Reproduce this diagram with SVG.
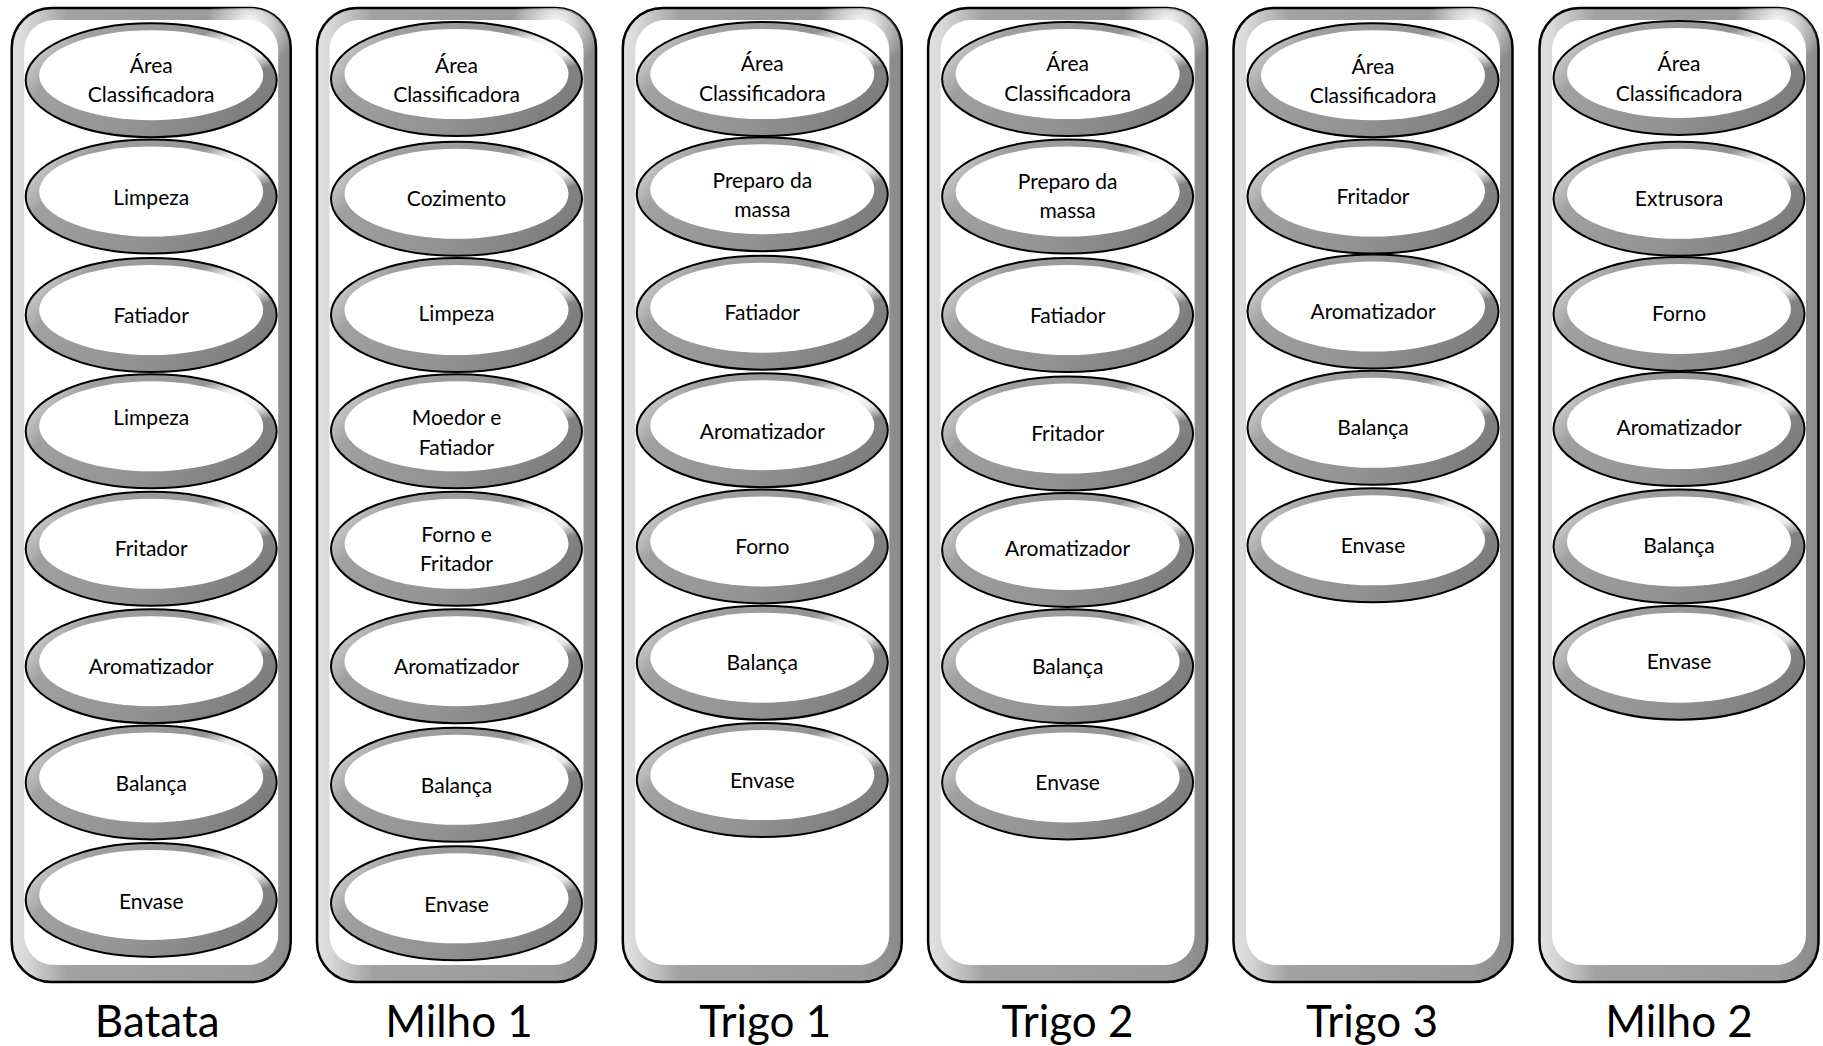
<svg xmlns="http://www.w3.org/2000/svg" width="1823" height="1046" viewBox="0 0 1823 1046">
<style>
.frame{fill:url(#frameBand);stroke:#000;stroke-width:2.5}
.framehl{fill:url(#frameHl);stroke:none}
.frameIn{fill:#fff;stroke:none}
.band{fill:url(#ellBand);stroke:none}
.bandhl{fill:url(#ellHl);stroke:none}
.inner{fill:#fff;stroke:none}
.edge{fill:none;stroke:#000;stroke-width:2}
.t{font-family:Lato,"Open Sans","Liberation Sans",sans-serif;font-size:21px;fill:#000;text-anchor:middle}
.lbl{font-family:Lato,"Open Sans","Liberation Sans",sans-serif;font-size:44px;fill:#000;text-anchor:middle}
</style>
<defs>
<linearGradient id="frameBand" gradientUnits="userSpaceOnUse" x1="-139.5" y1="0" x2="139.5" y2="0">
<stop offset="0" stop-color="#e2e2e2"/>
<stop offset="0.05" stop-color="#d8d8d8"/>
<stop offset="0.2" stop-color="#a2a2a2"/>
<stop offset="0.85" stop-color="#9a9a9a"/>
<stop offset="1" stop-color="#8a8a8a"/>
</linearGradient>
<radialGradient id="frameHl" gradientUnits="userSpaceOnUse" cx="100" cy="25" r="45">
<stop offset="0" stop-color="#fff" stop-opacity="1"/>
<stop offset="1" stop-color="#fff" stop-opacity="0"/>
</radialGradient>
<linearGradient id="ellBand" x1="0" y1="0.3" x2="1" y2="0.7">
<stop offset="0" stop-color="#d0d0d0"/>
<stop offset="0.15" stop-color="#a0a0a0"/>
<stop offset="0.6" stop-color="#929292"/>
<stop offset="1" stop-color="#7a7a7a"/>
</linearGradient>
<radialGradient id="ellHl" cx="0.86" cy="0.22" r="0.2">
<stop offset="0" stop-color="#fff" stop-opacity="1"/>
<stop offset="0.5" stop-color="#fff" stop-opacity="0.8"/>
<stop offset="1" stop-color="#fff" stop-opacity="0"/>
</radialGradient>
<g id="ell">
<ellipse class="band" cx="0" cy="0" rx="125.5" ry="57"/>
<ellipse class="bandhl" cx="0" cy="0" rx="125.5" ry="57"/>
<ellipse class="inner" cx="0" cy="-5" rx="112" ry="45"/>
<ellipse class="edge" cx="0" cy="0" rx="125.5" ry="57"/>
</g>
<g id="frm">
<rect class="frame" x="-139.5" y="8" width="279" height="974" rx="40"/>
<rect class="framehl" x="-139.5" y="8" width="279" height="974" rx="40"/>
<rect class="frameIn" x="-127" y="20" width="254" height="945" rx="30"/>
</g>
</defs>
<g id="connectors"/>

<g id="col-batata" transform="translate(151.2,0)">
<use href="#frm"/>
<g id="batata-1"><use href="#ell" y="80.2"/><text class="t" x="0" y="72.6">Área</text><text class="t" x="0" y="101.7">Classificadora</text></g>
<g id="batata-2"><use href="#ell" y="196.5"/><text class="t" x="0" y="205">Limpeza</text></g>
<g id="batata-3"><use href="#ell" y="315"/><text class="t" x="0" y="322.6">Fatiador</text></g>
<g id="batata-4"><use href="#ell" y="431.3"/><text class="t" x="0" y="425">Limpeza</text></g>
<g id="batata-5"><use href="#ell" y="548.8"/><text class="t" x="0" y="556.3">Fritador</text></g>
<g id="batata-6"><use href="#ell" y="666.2"/><text class="t" x="0" y="673.7">Aromatizador</text></g>
<g id="batata-7"><use href="#ell" y="782.4"/><text class="t" x="0" y="791">Balança</text></g>
<g id="batata-8"><use href="#ell" y="899.9"/><text class="t" x="0" y="908.5">Envase</text></g>
<text class="lbl" x="6" y="1037">Batata</text>
</g>

<g id="col-milho1" transform="translate(456.5,0)">
<use href="#frm"/>
<g id="milho1-1"><use href="#ell" y="79"/><text class="t" x="0" y="72.6">Área</text><text class="t" x="0" y="101.7">Classificadora</text></g>
<g id="milho1-2"><use href="#ell" y="198.8"/><text class="t" x="0" y="206.3">Cozimento</text></g>
<g id="milho1-3"><use href="#ell" y="315"/><text class="t" x="0" y="321.4">Limpeza</text></g>
<g id="milho1-4"><use href="#ell" y="431.3"/><text class="t" x="0" y="425">Moedor e</text><text class="t" x="0" y="455.1">Fatiador</text></g>
<g id="milho1-5"><use href="#ell" y="548.8"/><text class="t" x="0" y="542.3">Forno e</text><text class="t" x="0" y="571.4">Fritador</text></g>
<g id="milho1-6"><use href="#ell" y="666.2"/><text class="t" x="0" y="673.7">Aromatizador</text></g>
<g id="milho1-7"><use href="#ell" y="784.8"/><text class="t" x="0" y="793.4">Balança</text></g>
<g id="milho1-8"><use href="#ell" y="903.3"/><text class="t" x="0" y="912">Envase</text></g>
<text class="lbl" x="2.5" y="1037">Milho 1</text>
</g>

<g id="col-trigo1" transform="translate(762.3,0)">
<use href="#frm"/>
<g id="trigo1-1"><use href="#ell" y="79"/><text class="t" x="0" y="71.4">Área</text><text class="t" x="0" y="100.5">Classificadora</text></g>
<g id="trigo1-2"><use href="#ell" y="194.2"/><text class="t" x="0" y="187.7">Preparo da</text><text class="t" x="0" y="216.8">massa</text></g>
<g id="trigo1-3"><use href="#ell" y="312.7"/><text class="t" x="0" y="320.2">Fatiador</text></g>
<g id="trigo1-4"><use href="#ell" y="430.2"/><text class="t" x="0" y="438.8">Aromatizador</text></g>
<g id="trigo1-5"><use href="#ell" y="546.4"/><text class="t" x="0" y="553.9">Forno</text></g>
<g id="trigo1-6"><use href="#ell" y="662.7"/><text class="t" x="0" y="670.2">Balança</text></g>
<g id="trigo1-7"><use href="#ell" y="780.1"/><text class="t" x="0" y="787.6">Envase</text></g>
<text class="lbl" x="3" y="1037">Trigo 1</text>
</g>

<g id="col-trigo2" transform="translate(1067.6,0)">
<use href="#frm"/>
<g id="trigo2-1"><use href="#ell" y="79"/><text class="t" x="0" y="71.4">Área</text><text class="t" x="0" y="100.5">Classificadora</text></g>
<g id="trigo2-2"><use href="#ell" y="196.5"/><text class="t" x="0" y="188.9">Preparo da</text><text class="t" x="0" y="217.9">massa</text></g>
<g id="trigo2-3"><use href="#ell" y="315"/><text class="t" x="0" y="322.6">Fatiador</text></g>
<g id="trigo2-4"><use href="#ell" y="433.6"/><text class="t" x="0" y="441.1">Fritador</text></g>
<g id="trigo2-5"><use href="#ell" y="549.9"/><text class="t" x="0" y="556.3">Aromatizador</text></g>
<g id="trigo2-6"><use href="#ell" y="666.2"/><text class="t" x="0" y="673.7">Balança</text></g>
<g id="trigo2-7"><use href="#ell" y="782.4"/><text class="t" x="0" y="789.9">Envase</text></g>
<text class="lbl" x="0" y="1037">Trigo 2</text>
</g>

<g id="col-trigo3" transform="translate(1373,0)">
<use href="#frm"/>
<g id="trigo3-1"><use href="#ell" y="80.2"/><text class="t" x="0" y="73.8">Área</text><text class="t" x="0" y="102.8">Classificadora</text></g>
<g id="trigo3-2"><use href="#ell" y="196.5"/><text class="t" x="0" y="204">Fritador</text></g>
<g id="trigo3-3"><use href="#ell" y="311.6"/><text class="t" x="0" y="319.1">Aromatizador</text></g>
<g id="trigo3-4"><use href="#ell" y="427.8"/><text class="t" x="0" y="435.3">Balança</text></g>
<g id="trigo3-5"><use href="#ell" y="545.3"/><text class="t" x="0" y="552.8">Envase</text></g>
<text class="lbl" x="-1" y="1037">Trigo 3</text>
</g>

<g id="col-milho2" transform="translate(1679,0)">
<use href="#frm"/>
<g id="milho2-1"><use href="#ell" y="77.9"/><text class="t" x="0" y="71.4">Área</text><text class="t" x="0" y="100.5">Classificadora</text></g>
<g id="milho2-2"><use href="#ell" y="198.8"/><text class="t" x="0" y="206.3">Extrusora</text></g>
<g id="milho2-3"><use href="#ell" y="313.9"/><text class="t" x="0" y="321.4">Forno</text></g>
<g id="milho2-4"><use href="#ell" y="429"/><text class="t" x="0" y="435.3">Aromatizador</text></g>
<g id="milho2-5"><use href="#ell" y="546.4"/><text class="t" x="0" y="552.8">Balança</text></g>
<g id="milho2-6"><use href="#ell" y="662.7"/><text class="t" x="0" y="669">Envase</text></g>
<text class="lbl" x="0" y="1037">Milho 2</text>
</g>
</svg>
